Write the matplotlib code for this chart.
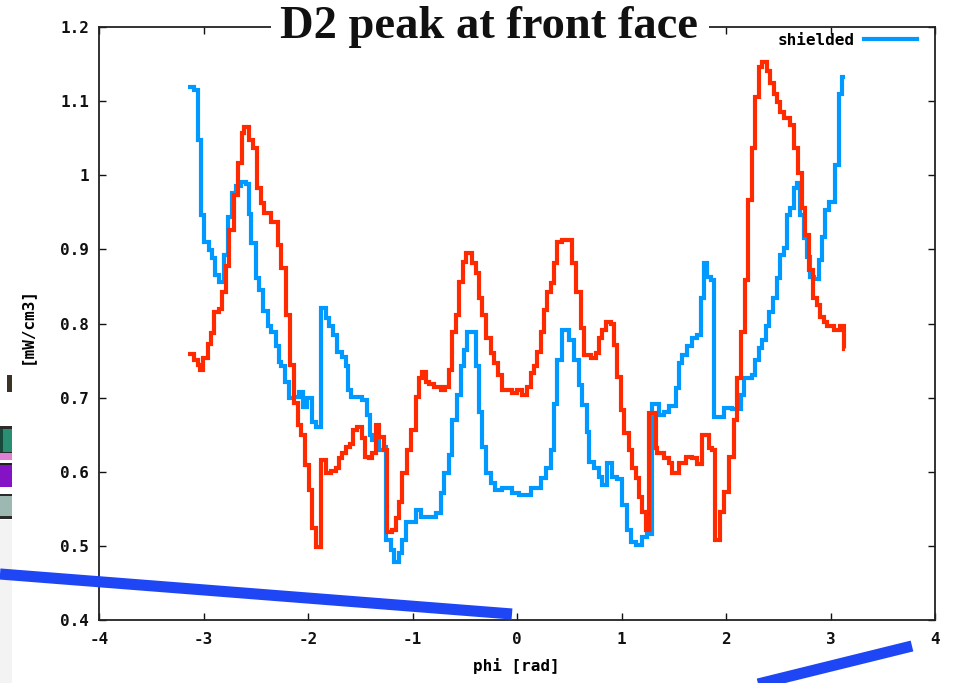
import matplotlib
matplotlib.use("Agg")
import matplotlib.pyplot as plt
from matplotlib.lines import Line2D
from matplotlib.patches import Rectangle
from matplotlib.ticker import FuncFormatter

# ---------------- data ----------------
blue_edges = [-3.152, -3.088, -3.056, -3.024, -2.992, -2.951, -2.919, -2.887, -2.849, -2.801,
              -2.769, -2.728, -2.690, -2.642, -2.594, -2.569, -2.546, -2.498, -2.467, -2.435,
              -2.387, -2.355, -2.307, -2.282, -2.259, -2.218, -2.186, -2.132, -2.084, -2.046,
              -2.005, -1.957, -1.925, -1.877, -1.829, -1.797, -1.759, -1.718, -1.676, -1.638,
              -1.613, -1.590, -1.479, -1.431, -1.408, -1.383, -1.319, -1.272, -1.249, -1.208,
              -1.176, -1.128, -1.096, -1.058, -0.969, -0.921, -0.777, -0.729, -0.698, -0.650,
              -0.618, -0.571, -0.539, -0.507, -0.475, -0.395, -0.363, -0.331, -0.293, -0.252,
              -0.210, -0.140, -0.045, 0.019, 0.131, 0.227, 0.274, 0.322, 0.354, 0.385,
              0.433, 0.497, 0.545, 0.593, 0.624, 0.672, 0.688, 0.736, 0.784, 0.816,
              0.863, 0.911, 0.959, 1.007, 1.055, 1.087, 1.135, 1.198, 1.246, 1.294,
              1.358, 1.405, 1.453, 1.517, 1.549, 1.581, 1.628, 1.676, 1.724, 1.756,
              1.788, 1.820, 1.852, 1.883, 1.979, 2.059, 2.139, 2.170, 2.250, 2.282,
              2.314, 2.345, 2.378, 2.416, 2.447, 2.489, 2.521, 2.553, 2.584, 2.617,
              2.648, 2.680, 2.712, 2.744, 2.775, 2.808, 2.839, 2.887, 2.919, 2.951,
              2.983, 3.047, 3.078, 3.110, 3.142]
blue_vals = [1.119, 1.115, 1.047, 0.946, 0.910, 0.899, 0.888, 0.865, 0.856, 0.892,
             0.944, 0.976, 0.985, 0.991, 0.988, 0.948, 0.909, 0.861, 0.845, 0.817,
             0.796, 0.789, 0.769, 0.748, 0.742, 0.721, 0.699, 0.701, 0.708, 0.688,
             0.699, 0.667, 0.661, 0.821, 0.807, 0.797, 0.784, 0.762, 0.755, 0.742,
             0.710, 0.701, 0.697, 0.676, 0.649, 0.643, 0.629, 0.633, 0.508, 0.494,
             0.478, 0.490, 0.508, 0.532, 0.548, 0.539, 0.544, 0.571, 0.598, 0.622,
             0.670, 0.703, 0.742, 0.764, 0.789, 0.742, 0.681, 0.634, 0.598, 0.585,
             0.575, 0.578, 0.571, 0.568, 0.578, 0.591, 0.605, 0.629, 0.692, 0.751,
             0.791, 0.778, 0.751, 0.717, 0.690, 0.654, 0.613, 0.605, 0.593, 0.582,
             0.612, 0.593, 0.590, 0.555, 0.521, 0.505, 0.501, 0.512, 0.516, 0.692,
             0.676, 0.680, 0.689, 0.713, 0.747, 0.757, 0.770, 0.780, 0.785, 0.834,
             0.881, 0.863, 0.859, 0.674, 0.686, 0.684, 0.703, 0.726, 0.731, 0.751,
             0.767, 0.778, 0.796, 0.816, 0.834, 0.861, 0.892, 0.902, 0.946, 0.956,
             0.983, 0.990, 0.946, 0.915, 0.890, 0.863, 0.860, 0.886, 0.917, 0.953,
             0.964, 1.014, 1.110, 1.133]

red_edges = [-3.152, -3.088, -3.056, -3.034, -3.002, -2.961, -2.929, -2.897, -2.856, -2.823,
             -2.785, -2.753, -2.706, -2.674, -2.632, -2.610, -2.562, -2.530, -2.492, -2.450,
             -2.419, -2.355, -2.291, -2.259, -2.211, -2.173, -2.132, -2.100, -2.068, -2.027,
             -1.995, -1.963, -1.925, -1.877, -1.829, -1.781, -1.733, -1.702, -1.670, -1.638,
             -1.600, -1.568, -1.527, -1.485, -1.453, -1.415, -1.383, -1.351, -1.319, -1.272,
             -1.240, -1.192, -1.160, -1.128, -1.096, -1.049, -1.016, -0.969, -0.937, -0.905,
             -0.873, -0.841, -0.794, -0.729, -0.688, -0.650, -0.618, -0.586, -0.554, -0.516,
             -0.490, -0.433, -0.395, -0.363, -0.331, -0.293, -0.252, -0.220, -0.179, -0.140,
             -0.045, 0.003, 0.051, 0.099, 0.131, 0.163, 0.194, 0.227, 0.258, 0.290,
             0.322, 0.354, 0.385, 0.433, 0.529, 0.561, 0.609, 0.641, 0.705, 0.752,
             0.784, 0.816, 0.848, 0.896, 0.927, 0.959, 0.991, 1.023, 1.071, 1.102,
             1.135, 1.166, 1.198, 1.236, 1.262, 1.326, 1.342, 1.405, 1.453, 1.485,
             1.549, 1.613, 1.676, 1.724, 1.772, 1.836, 1.867, 1.893, 1.947, 1.979,
             2.027, 2.075, 2.107, 2.139, 2.180, 2.212, 2.250, 2.282, 2.314, 2.345,
             2.393, 2.425, 2.457, 2.489, 2.521, 2.553, 2.617, 2.648, 2.690, 2.728,
             2.760, 2.798, 2.830, 2.871, 2.903, 2.935, 2.967, 3.031, 3.095, 3.125,
             3.142]
red_vals = [0.759, 0.751, 0.744, 0.737, 0.753, 0.773, 0.787, 0.816, 0.820, 0.843,
            0.877, 0.926, 0.973, 1.016, 1.057, 1.065, 1.047, 1.037, 0.983, 0.962,
            0.949, 0.937, 0.906, 0.875, 0.811, 0.744, 0.693, 0.663, 0.649, 0.609,
            0.575, 0.524, 0.499, 0.616, 0.598, 0.601, 0.605, 0.618, 0.625, 0.634,
            0.638, 0.656, 0.661, 0.645, 0.620, 0.618, 0.625, 0.663, 0.647, 0.630,
            0.519, 0.521, 0.537, 0.559, 0.598, 0.629, 0.656, 0.701, 0.726, 0.735,
            0.721, 0.718, 0.715, 0.710, 0.715, 0.737, 0.789, 0.811, 0.856, 0.883,
            0.895, 0.881, 0.868, 0.834, 0.811, 0.780, 0.760, 0.747, 0.730, 0.710,
            0.706, 0.710, 0.703, 0.715, 0.733, 0.742, 0.762, 0.789, 0.818, 0.843,
            0.854, 0.881, 0.910, 0.913, 0.881, 0.843, 0.794, 0.757, 0.754, 0.760,
            0.780, 0.791, 0.802, 0.800, 0.771, 0.728, 0.683, 0.652, 0.629, 0.605,
            0.591, 0.566, 0.546, 0.521, 0.679, 0.632, 0.625, 0.618, 0.612, 0.598,
            0.612, 0.620, 0.618, 0.610, 0.649, 0.632, 0.630, 0.508, 0.546, 0.573,
            0.620, 0.670, 0.726, 0.789, 0.859, 0.967, 1.037, 1.106, 1.146, 1.153,
            1.140, 1.124, 1.110, 1.099, 1.086, 1.077, 1.068, 1.037, 1.003, 0.956,
            0.919, 0.872, 0.834, 0.825, 0.809, 0.802, 0.796, 0.791, 0.796, 0.766]

x_ticks = [-4, -3, -2, -1, 0, 1, 2, 3, 4]
y_ticks = [0.4, 0.5, 0.6, 0.7, 0.8, 0.9, 1.0, 1.1, 1.2]
title_text = "D2 peak at front face"
x_label = "phi [rad]"
y_label = "[mW/cm3]"
legend_label = "shielded"

# ---------------- styling ----------------
BLUE = "#0099ff"
RED = "#ff2a00"
INK = "#1e46f5"
FS = 11.5
plt.rcParams["font.family"] = ["DejaVu Sans Mono"]
plt.rcParams["font.weight"] = "bold"

W, H = 964, 683
fig = plt.figure(figsize=(W / 100, H / 100), dpi=100)
ax = fig.add_axes([99 / W, 1 - 620 / H, (935 - 99) / W, (620 - 27) / H])

ax.stairs(blue_vals, blue_edges, baseline=None, color=BLUE, lw=3, zorder=2)
ax.stairs(red_vals, red_edges, baseline=None, color=RED, lw=3, zorder=3)

ax.set_xlim(-4, 4)
ax.set_ylim(0.4, 1.2)
ax.set_xticks(x_ticks)
ax.set_yticks(y_ticks)
fmt = FuncFormatter(lambda v, p: "%g" % round(v, 3))
ax.xaxis.set_major_formatter(fmt)
ax.yaxis.set_major_formatter(fmt)
ax.tick_params(direction="in", length=5, width=1.0, top=True, right=True,
               labelsize=FS, colors="#111111")
ax.tick_params(axis="x", pad=9)
ax.tick_params(axis="y", pad=7)
for s in ax.spines.values():
    s.set_linewidth(1.3)
    s.set_color("#222222")

leg = ax.legend(handles=[Line2D([], [], color=BLUE, lw=3)], labels=[legend_label],
                loc="upper right", bbox_to_anchor=(0.9785, 0.99), borderaxespad=0,
                borderpad=0, markerfirst=False, frameon=False, handlelength=3.3,
                handletextpad=0.6, prop={"family": "DejaVu Sans Mono", "weight": "bold", "size": FS})

fig.text(516 / W, 1 - 666 / H, x_label, ha="center", va="center", fontsize=FS)
fig.text(26 / W, 1 - 325 / H, y_label, ha="center", va="center", rotation=90, fontsize=FS)

# title over a white band that hides the top frame
fig.add_artist(Rectangle((271 / W, 1 - 36 / H), (709 - 271) / W, 16 / H,
                         transform=fig.transFigure, facecolor="white", edgecolor="none", zorder=9))
fig.text(489 / W, 1 - 38 / H, title_text, ha="center", va="baseline",
         fontfamily="Liberation Serif", fontweight="bold", fontsize=33.5, color="#111111", zorder=10)


def px_rect(x0, y0, x1, y1, color, z=1):
    fig.add_artist(Rectangle((x0 / W, 1 - y1 / H), (x1 - x0) / W, (y1 - y0) / H,
                             transform=fig.transFigure, facecolor=color, edgecolor="none", zorder=z))


# slide fragments at the left edge
px_rect(0, 520, 12, 683, "#f3f3f3")
px_rect(7, 375, 12, 392, "#3a3326")
px_rect(0, 426, 12, 429, "#2b2b2b")
px_rect(0, 429, 12, 452, "#2a8f72")
px_rect(0, 429, 3, 452, "#174a3a")
px_rect(0, 452, 12, 453, "#2b2b2b")
px_rect(0, 453, 12, 460, "#e07fd6")
px_rect(0, 463, 12, 465, "#202020")
px_rect(0, 465, 12, 487, "#8612c6")
px_rect(0, 494, 12, 496, "#2b2b2b")
px_rect(0, 496, 12, 516, "#9db8b0")
px_rect(0, 516, 12, 519, "#2b2b2b")

# hand-drawn blue pen strokes
fig.add_artist(Line2D([0 / W, 512 / W], [1 - 574 / H, 1 - 614 / H], transform=fig.transFigure,
                      color=INK, lw=8, solid_capstyle="butt", zorder=12))
fig.add_artist(Line2D([750 / W, 912 / W], [1 - 686 / H, 1 - 646 / H], transform=fig.transFigure,
                      color=INK, lw=8, solid_capstyle="butt", zorder=12))

fig.savefig("out.png", dpi=100)
